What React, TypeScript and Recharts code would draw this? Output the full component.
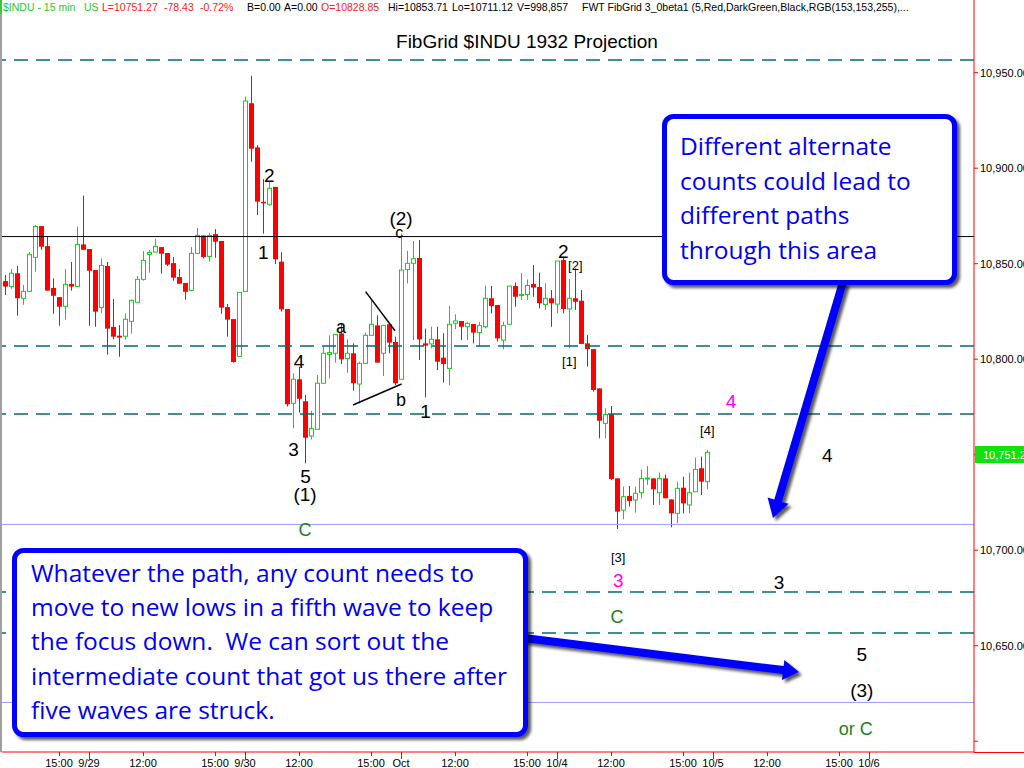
import React from "react";
import { ComposedChart, Bar, Scatter, XAxis, YAxis, ReferenceLine } from "recharts";

// 15 min bars, 9/28 afternoon through 10/4 close
const opens = [
  10840.9, 10838.0, 10845.0, 10831.9, 10835.5, 10853.3, 10869.7, 10859.2, 10837.3, 10832.5,
  10827.7, 10839.4, 10838.1, 10860.1, 10857.7, 10846.7, 10827.1, 10848.8, 10816.9, 10812.3,
  10812.0, 10819.8, 10829.8, 10841.8, 10854.9, 10856.1, 10858.7, 10855.6, 10850.3, 10843.0,
  10839.9, 10836.0, 10855.4, 10864.8, 10853.8, 10865.5, 10861.9, 10827.3, 10821.0, 10801.5,
  10835.5, 10934.0, 10910.9, 10882.4, 10881.1, 10890.2, 10851.1, 10826.3, 10776.9, 10789.5,
  10778.0, 10759.8, 10763.3, 10787.4, 10802.5, 10803.1, 10813.5, 10800.4, 10803.1, 10787.0,
  10797.8, 10812.5, 10817.7, 10803.1, 10818.3, 10809.0, 10789.5, 10847.0, 10850.2, 10853.0,
  10808.3, 10808.0, 10810.4, 10800.8, 10795.2, 10818.8, 10820.0, 10817.0, 10818.4, 10813.9,
  10817.0, 10831.9, 10828.4, 10810.0, 10818.3, 10838.3, 10833.3, 10833.9, 10839.4, 10837.8,
  10828.7, 10831.9, 10828.85, 10851.9, 10826.3, 10831.9, 10830.6, 10808.3, 10805.3, 10784.7,
  10766.4, 10771.1, 10737.6, 10721.0, 10728.4, 10726.3, 10730.1, 10737.3, 10737.6, 10730.1,
  10737.6, 10726.6, 10719.3, 10732.7, 10723.7, 10730.6, 10742.9, 10735.9,
];
const highs = [
  10844.1, 10847.2, 10848.8, 10838.8, 10856.1, 10870.2, 10869.7, 10864.1, 10842.3, 10832.5,
  10847.2, 10850.9, 10869.5, 10885.6, 10857.7, 10846.7, 10852.8, 10850.9, 10831.5, 10817.9,
  10824.0, 10831.3, 10843.6, 10856.6, 10857.3, 10863.1, 10858.7, 10855.6, 10853.5, 10847.2,
  10839.9, 10858.7, 10868.7, 10864.8, 10866.2, 10868.1, 10861.9, 10828.9, 10821.0, 10835.0,
  10937.5, 10948.4, 10912.1, 10894.3, 10893.0, 10890.2, 10856.0, 10826.3, 10792.6, 10796.1,
  10781.3, 10772.9, 10791.7, 10806.6, 10812.5, 10813.0, 10818.8, 10810.4, 10808.3, 10798.7,
  10813.9, 10831.7, 10823.0, 10817.7, 10818.3, 10811.8, 10865.9, 10856.7, 10861.9, 10862.4,
  10816.0, 10817.0, 10817.0, 10813.6, 10827.9, 10823.5, 10820.0, 10819.6, 10818.4, 10819.6,
  10838.5, 10838.3, 10828.4, 10819.6, 10838.3, 10840.1, 10845.0, 10841.8, 10849.3, 10845.3,
  10839.7, 10836.2, 10851.4, 10853.71, 10842.0, 10847.6, 10836.2, 10812.7, 10805.3, 10784.7,
  10774.3, 10775.5, 10737.6, 10733.3, 10733.6, 10733.3, 10742.3, 10744.1, 10737.6, 10740.6,
  10739.7, 10726.6, 10735.9, 10738.5, 10740.6, 10748.4, 10749.0, 10752.5,
];
const lows = [
  10833.6, 10836.9, 10822.8, 10828.5, 10835.5, 10845.8, 10857.3, 10835.9, 10823.8, 10817.5,
  10820.7, 10835.9, 10838.1, 10857.3, 10817.5, 10817.0, 10824.3, 10802.4, 10810.4, 10801.3,
  10810.2, 10813.4, 10829.8, 10841.1, 10845.3, 10856.1, 10844.8, 10848.8, 10841.1, 10839.5,
  10831.2, 10836.0, 10855.4, 10852.8, 10851.1, 10853.1, 10823.8, 10811.8, 10798.2, 10801.5,
  10835.5, 10903.4, 10875.5, 10865.7, 10880.4, 10849.9, 10824.9, 10775.2, 10763.8, 10772.0,
  10745.5, 10758.0, 10763.3, 10787.4, 10790.0, 10798.2, 10797.5, 10792.9, 10783.5, 10776.9,
  10797.8, 10812.5, 10798.2, 10791.2, 10803.1, 10786.5, 10789.5, 10839.7, 10810.0, 10799.6,
  10780.0, 10805.7, 10794.3, 10787.7, 10786.3, 10815.8, 10810.0, 10810.0, 10808.3, 10806.6,
  10816.2, 10824.0, 10809.2, 10805.2, 10818.3, 10827.5, 10831.0, 10831.0, 10832.7, 10826.6,
  10825.8, 10817.0, 10824.0, 10824.0, 10805.7, 10825.8, 10808.0, 10796.1, 10783.0, 10758.6,
  10758.6, 10736.8, 10711.12, 10716.2, 10722.8, 10719.7, 10727.2, 10734.1, 10723.7, 10723.7,
  10727.2, 10712.0, 10714.1, 10719.3, 10719.3, 10730.6, 10728.9, 10731.9,
];
const closes = [
  10838.0, 10845.0, 10831.9, 10835.5, 10854.9, 10869.5, 10858.9, 10835.9, 10833.2, 10827.5,
  10839.2, 10838.0, 10860.1, 10857.3, 10846.3, 10824.9, 10849.1, 10816.0, 10811.8, 10811.3,
  10820.9, 10830.8, 10841.8, 10851.7, 10855.9, 10859.1, 10855.2, 10849.5, 10842.7, 10839.5,
  10835.3, 10855.4, 10864.8, 10853.5, 10864.8, 10861.5, 10827.0, 10820.7, 10798.5, 10835.0,
  10935.2, 10910.2, 10882.5, 10882.2, 10889.5, 10852.3, 10826.1, 10776.4, 10789.5, 10779.3,
  10758.9, 10763.8, 10787.4, 10803.1, 10803.5, 10813.0, 10799.9, 10803.1, 10787.4, 10797.8,
  10812.5, 10818.3, 10798.2, 10817.7, 10808.7, 10787.4, 10846.7, 10850.2, 10852.6, 10810.4,
  10807.1, 10810.4, 10798.7, 10797.5, 10818.3, 10820.0, 10817.0, 10818.8, 10813.9, 10817.6,
  10831.9, 10827.8, 10810.9, 10817.6, 10838.3, 10832.7, 10833.9, 10838.6, 10837.5, 10829.3,
  10831.9, 10829.3, 10851.4, 10826.3, 10831.9, 10830.1, 10808.0, 10805.3, 10783.9, 10767.8,
  10771.1, 10737.3, 10720.2, 10728.0, 10725.8, 10729.8, 10737.6, 10737.8, 10731.9, 10737.6,
  10727.2, 10719.3, 10732.4, 10724.5, 10730.1, 10742.3, 10735.9, 10751.27,
];

// FibGrid levels
const fibDashed = [10956.6, 10806.9, 10771.3, 10678.1, 10656.6];
const fibBlue = [10713.5, 10620.3];
const pivotLevel = 10864.2;
const lastPrice = 10751.27;

const priceTicks = [10600, 10650, 10700, 10750, 10800, 10850, 10900, 10950];
const timeTickIdx = [9, 14, 23, 35, 40, 49, 61, 66, 75, 87, 92, 101, 113, 118, 127, 139, 144];
const timeTickLabels = [
  "15:00", "9/29", "12:00", "15:00", "9/30", "12:00", "15:00", "Oct", "12:00",
  "15:00", "10/4", "12:00", "15:00", "10/5", "12:00", "15:00", "10/6",
];
const dayLabels = ["9/29", "9/30", "Oct", "10/4", "10/5", "10/6"];

// wave count labels: bar index, price, text, colour, size
const waveLabels = [
  { i: 44.05, v: 10896.4, text: "2", color: "#000", size: 19 },
  { i: 43.05, v: 10855.8, text: "1", color: "#000", size: 19 },
  { i: 66, v: 10873.6, text: "(2)", color: "#000", size: 19 },
  { i: 65.7, v: 10866.4, text: "c", color: "#000", size: 16 },
  { i: 56, v: 10816.7, text: "a", color: "#000", size: 18 },
  { i: 66, v: 10778.6, text: "b", color: "#000", size: 18 },
  { i: 70.1, v: 10772.5, text: "1", color: "#000", size: 19 },
  { i: 49, v: 10798.7, text: "4", color: "#000", size: 19 },
  { i: 48.1, v: 10752.5, text: "3", color: "#000", size: 19 },
  { i: 50.1, v: 10738.8, text: "5", color: "#000", size: 19 },
  { i: 50, v: 10729.4, text: "(1)", color: "#000", size: 19 },
  { i: 50, v: 10710.6, text: "C", color: "#1E7E1E", size: 18 },
  { i: 93.05, v: 10856.6, text: "2", color: "#000", size: 19 },
  { i: 95.05, v: 10848.8, text: "[2]", color: "#000", size: 13 },
  { i: 94.05, v: 10798.7, text: "[1]", color: "#000", size: 13 },
  { i: 121, v: 10778.1, text: "4", color: "#FF00FF", size: 19 },
  { i: 117.05, v: 10762.6, text: "[4]", color: "#000", size: 13 },
  { i: 137.05, v: 10749.8, text: "4", color: "#000", size: 19 },
  { i: 102.2, v: 10696.3, text: "[3]", color: "#000", size: 13 },
  { i: 102.2, v: 10684.0, text: "3", color: "#FF00FF", size: 19 },
  { i: 102, v: 10664.9, text: "C", color: "#1E7E1E", size: 18 },
  { i: 129, v: 10683.0, text: "3", color: "#000", size: 19 },
  { i: 142.8, v: 10645.6, text: "5", color: "#000", size: 19 },
  { i: 142.8, v: 10626.3, text: "(3)", color: "#000", size: 19 },
  { i: 141.8, v: 10606.4, text: "or C", color: "#1E7E1E", size: 18 },
];

// triangle trendlines (bar index, price)
const upperTrend = [{ x: 60.1, y: 10835.4 }, { x: 65, y: 10814.9 }];
const lowerTrend = [{ x: 58, y: 10776.0 }, { x: 66.1, y: 10787.0 }];

const calloutTop = ["Different alternate", "counts could lead to", "different paths", "through this area"];
const calloutBottom = [
  "Whatever the path, any count needs to",
  "move to new lows in a fifth wave to keep",
  "the focus down.  We can sort out the",
  "intermediate count that got us there after",
  "five waves are struck.",
];

const GREEN = "#00E000";
const RED = "#FF0000";
const FONT = "'Liberation Sans', Arial, sans-serif";
const NOTE_FONT = "'Open Sans', 'Noto Sans', sans-serif";

const candles = opens.map((o, i) => ({ i, o, h: highs[i], l: lows[i], c: closes[i] }));

const Candle = (props: any) => {
  const { x, y, width, height, payload } = props;
  if (!payload || x == null || y == null) return null;
  const { o, h, l, c } = payload;
  const top = Math.min(y, y + height);
  const span = Math.abs(height);
  const k = h > l ? span / (h - l) : 0;
  const py = (v: number) => top + (h - v) * k;
  const cx = Math.round(x + width / 2);
  const up = c >= o;
  const col = up ? GREEN : RED;
  const bTop = py(Math.max(o, c));
  const bBot = py(Math.min(o, c));
  return (
    <g>
      <line x1={cx + 0.5} x2={cx + 0.5} y1={top} y2={top + span} stroke={col} strokeWidth={1} />
      {up ? (
        <rect x={cx - 1.5} y={bTop} width={4} height={Math.max(bBot - bTop, 1)} fill="#fff" stroke={col} strokeWidth={1} />
      ) : (
        <rect x={cx - 2} y={bTop} width={5} height={Math.max(bBot - bTop, 1.5)} fill={col} />
      )}
    </g>
  );
};

const WaveLabel = (props: any) => {
  const { cx, cy, payload } = props;
  if (cx == null || cy == null) return null;
  return (
    <text x={cx} y={cy} textAnchor="middle" dominantBaseline="central" fontFamily={FONT}
      fontSize={payload.size} fill={payload.color}>
      {payload.text}
    </text>
  );
};

const TimeTick = (props: any) => {
  const { x, y, payload } = props;
  const idx = timeTickIdx.indexOf(payload.value);
  const label = timeTickLabels[idx];
  const isDay = dayLabels.includes(label);
  return (
    <g>
      <line x1={x + 0.5} x2={x + 0.5} y1={y} y2={y + (isDay ? 7 : 4)} stroke={RED} strokeWidth={1} />
      <text x={x} y={y + 15} textAnchor="middle" fontFamily={FONT} fontSize={11} fill="#000">
        {label}
      </text>
    </g>
  );
};

const PriceTick = (props: any) => {
  const { x, y, payload } = props;
  // 10,600 sits on the time axis and 10,750 is hidden under the last-price tag
  if (payload.value === 10600 || payload.value === 10750) return null;
  const s = payload.value.toLocaleString("en-US", { minimumFractionDigits: 2, maximumFractionDigits: 2 });
  return (
    <text x={x} y={y + 4} textAnchor="start" fontFamily={FONT} fontSize={11} fill="#000">
      {s}
    </text>
  );
};

function arrowPoints(x1: number, y1: number, x2: number, y2: number, shaft: number, headW: number, headL: number) {
  const dx = x2 - x1, dy = y2 - y1;
  const len = Math.hypot(dx, dy);
  const ux = dx / len, uy = dy / len;
  const nx = -uy, ny = ux;
  const bx = x2 - ux * headL, by = y2 - uy * headL;
  const pts = [
    [x1 + (nx * shaft) / 2, y1 + (ny * shaft) / 2],
    [bx + (nx * shaft) / 2, by + (ny * shaft) / 2],
    [bx + (nx * headW) / 2, by + (ny * headW) / 2],
    [x2, y2],
    [bx - (nx * headW) / 2, by - (ny * headW) / 2],
    [bx - (nx * shaft) / 2, by - (ny * shaft) / 2],
    [x1 - (nx * shaft) / 2, y1 - (ny * shaft) / 2],
  ];
  return pts.map((p) => p.join(",")).join(" ");
}

const header = [
  { x: 3, t: "$INDU - 15 min", c: "#22CC22" },
  { x: 84, t: "US", c: "#22CC22" },
  { x: 102, t: "L=10751.27", c: "#FF2020" },
  { x: 164, t: "-78.43", c: "#FF2020" },
  { x: 200, t: "-0.72%", c: "#FF2020" },
  { x: 247, t: "B=0.00", c: "#000" },
  { x: 284, t: "A=0.00", c: "#000" },
  { x: 321, t: "O=10828.85", c: "#FF2020" },
  { x: 388, t: "Hi=10853.71", c: "#000" },
  { x: 452, t: "Lo=10711.12", c: "#000" },
  { x: 517, t: "V=998,857", c: "#000" },
  { x: 582, t: "FWT FibGrid 3_0beta1 (5,Red,DarkGreen,Black,RGB(153,153,255),...", c: "#000" },
];

export default function App() {
  return (
    <div style={{ position: "absolute", left: 0, top: 0, width: 1024, height: 768, background: "#fff", overflow: "hidden" }}>
      <ComposedChart width={1024} height={768} data={candles} margin={{ top: 0, right: 0, bottom: 0, left: 2 }}>
        <XAxis
          dataKey="i"
          type="number"
          domain={[-0.5, 161.5]}
          allowDataOverflow
          ticks={timeTickIdx}
          interval={0}
          height={16}
          tickSize={0}
          tickMargin={0}
          tickLine={false}
          axisLine={{ stroke: RED }}
          tick={<TimeTick />}
        />
        <YAxis
          orientation="right"
          type="number"
          domain={[10594.35, 10988.06]}
          allowDataOverflow
          ticks={priceTicks}
          interval={0}
          width={50}
          tickSize={4}
          tickMargin={2}
          axisLine={{ stroke: RED }}
          tickLine={{ stroke: RED }}
          tick={<PriceTick />}
        />
        {fibDashed.map((v) => (
          <ReferenceLine key={"d" + v} y={v} stroke="#006E6E" strokeWidth={1.5} strokeDasharray="14 8" />
        ))}
        {fibBlue.map((v) => (
          <ReferenceLine key={"b" + v} y={v} stroke="#9999FF" strokeWidth={1} />
        ))}
        <ReferenceLine y={pivotLevel} stroke="#000" strokeWidth={1} />
        <Bar dataKey={(d: any) => [d.l, d.h]} shape={<Candle />} isAnimationActive={false} />
        <ReferenceLine segment={upperTrend} stroke="#000" strokeWidth={1.5} />
        <ReferenceLine segment={lowerTrend} stroke="#000" strokeWidth={1.5} />
        <Scatter data={waveLabels} dataKey="v" shape={<WaveLabel />} isAnimationActive={false} />
      </ComposedChart>

      <svg width={1024} height={768} style={{ position: "absolute", left: 0, top: 0, pointerEvents: "none" }}>
        <defs>
          <filter id="shadow" x="-10%" y="-10%" width="130%" height="130%">
            <feDropShadow dx={3} dy={3} stdDeviation={1.8} floodColor="#000" floodOpacity={0.65} />
          </filter>
        </defs>
        <rect x={0} y={0} width={2} height={14} fill="#33CC33" />
        <rect x={0} y={14} width={2} height={738} fill="#A0A0A0" />
        <line x1={974} x2={1024} y1={752.5} y2={752.5} stroke={RED} strokeWidth={1} />

        <text y={11} fontFamily={FONT} fontSize={10.5}>
          {header.map((h) => (
            <tspan key={h.x} x={h.x} fill={h.c}>{h.t}</tspan>
          ))}
        </text>
        <text x={527} y={48} textAnchor="middle" fontFamily={FONT} fontSize={19} fill="#000">
          FibGrid $INDU 1932 Projection
        </text>

        <rect x={975} y={446} width={49} height={17} fill="#11E011" />
        <text x={983} y={459} fontFamily={FONT} fontSize={11} fill="#fff">
          {lastPrice.toLocaleString("en-US", { minimumFractionDigits: 2 })}
        </text>

        <polygon points={arrowPoints(843, 282, 773, 518, 8, 22, 18)} fill="#0000FF" filter="url(#shadow)" />
        <polygon points={arrowPoints(524, 638, 799, 672, 8, 20, 16)} fill="#0000FF" filter="url(#shadow)" />

        <rect x={664.5} y={116.5} width={290} height={166} rx={9} fill="#fff" stroke="#0000FF" strokeWidth={5} filter="url(#shadow)" />
        {calloutTop.map((t, k) => (
          <text key={t} x={680} y={155 + k * 34.5} fontFamily={NOTE_FONT} fontSize={24.5} fill="#0000EE">
            {t}
          </text>
        ))}

        <rect x={14.5} y={550.5} width={511} height={184} rx={9} fill="#fff" stroke="#0000FF" strokeWidth={5} filter="url(#shadow)" />
        {calloutBottom.map((t, k) => (
          <text key={t} x={31} y={582 + k * 34.2} fontFamily={NOTE_FONT} fontSize={24.5} fill="#0000EE" style={{ whiteSpace: "pre" }}>
            {t}
          </text>
        ))}
      </svg>
    </div>
  );
}
